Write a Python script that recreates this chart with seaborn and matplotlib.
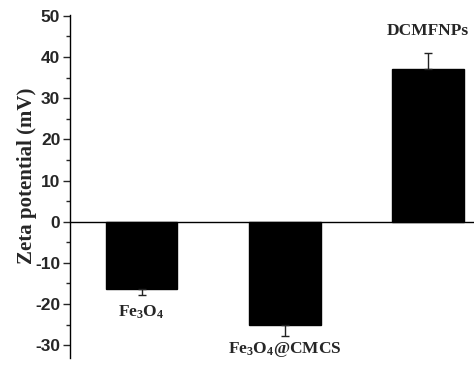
import numpy as np
import pandas as pd
import matplotlib
matplotlib.use("Agg")
import matplotlib.pyplot as plt
from matplotlib.ticker import MultipleLocator
import seaborn as sns

# data
categories = ["Fe3O4", "Fe3O4@CMCS", "DCMFNPs"]
labels = [r"Fe$_3$O$_4$", r"Fe$_3$O$_4$@CMCS", "DCMFNPs"]
zeta = [-16.3, -25.2, 37.1]
zeta_err = [1.5, 2.5, 3.8]

sns.set_theme(style="ticks")
plt.rcParams.update({
    "font.family": ["Liberation Sans", "DejaVu Sans"],
    "axes.unicode_minus": False,
    "mathtext.fontset": "custom",
    "mathtext.rm": "Liberation Serif:bold",
    "mathtext.it": "Liberation Serif:bold",
    "mathtext.bf": "Liberation Serif:bold",
})

df = pd.DataFrame({"sample": categories, "zeta": zeta})

fig = plt.figure(figsize=(4.74, 3.72), dpi=100)
ax = fig.add_axes([70 / 474, 1 - 358 / 372, 1 - 70 / 474, 343 / 372])

sns.barplot(data=df, x="sample", y="zeta", color="black", saturation=1,
            width=0.5, edgecolor="black", errorbar=None, ax=ax)

# one-sided error bars, pointing away from zero
vals = np.array(zeta)
errs = np.array(zeta_err)
lower = np.where(vals < 0, errs, 0)
upper = np.where(vals > 0, errs, 0)
ax.errorbar(np.arange(len(vals)), vals, yerr=[lower, upper], fmt="none",
            ecolor="#222222", elinewidth=1, capsize=3, capthick=1)

ax.axhline(0, color="black", lw=1, zorder=0.5)

# category labels next to the bars
label_pad = [6, 3, 10]
for i, (v, e, lab) in enumerate(zip(vals, errs, labels)):
    if v < 0:
        ax.annotate(lab, (i, v - e), xytext=(0, -label_pad[i]),
                    textcoords="offset points", ha="center", va="top",
                    fontsize=12.5, fontweight="bold", family="Liberation Serif")
    else:
        ax.annotate(lab, (i, v + e), xytext=(0, label_pad[i]),
                    textcoords="offset points", ha="center", va="bottom",
                    fontsize=12.5, fontweight="bold", family="Liberation Serif")

ax.set_xlim(-0.5, 2.32)
ax.set_ylim(-33.1, 50.2)
ax.yaxis.set_major_locator(MultipleLocator(10))
ax.yaxis.set_minor_locator(MultipleLocator(5))
ax.tick_params(axis="y", which="major", direction="out", length=5, width=1,
               pad=2, labelsize=12.5)
ax.tick_params(axis="y", which="minor", direction="out", length=3, width=1)
for t in ax.get_yticklabels():
    t.set_fontweight("bold")
ax.set_xticks([])
ax.set_xlabel("")
ax.set_ylabel("Zeta potential (mV)", fontsize=15, fontweight="bold",
              family="Liberation Serif")
ax.yaxis.set_label_coords(-0.082, 0.53)

for s in ["top", "right", "bottom"]:
    ax.spines[s].set_visible(False)
ax.spines["left"].set_linewidth(1)
ax.spines["left"].set_color("black")

fig.savefig("out.png", dpi=100)
